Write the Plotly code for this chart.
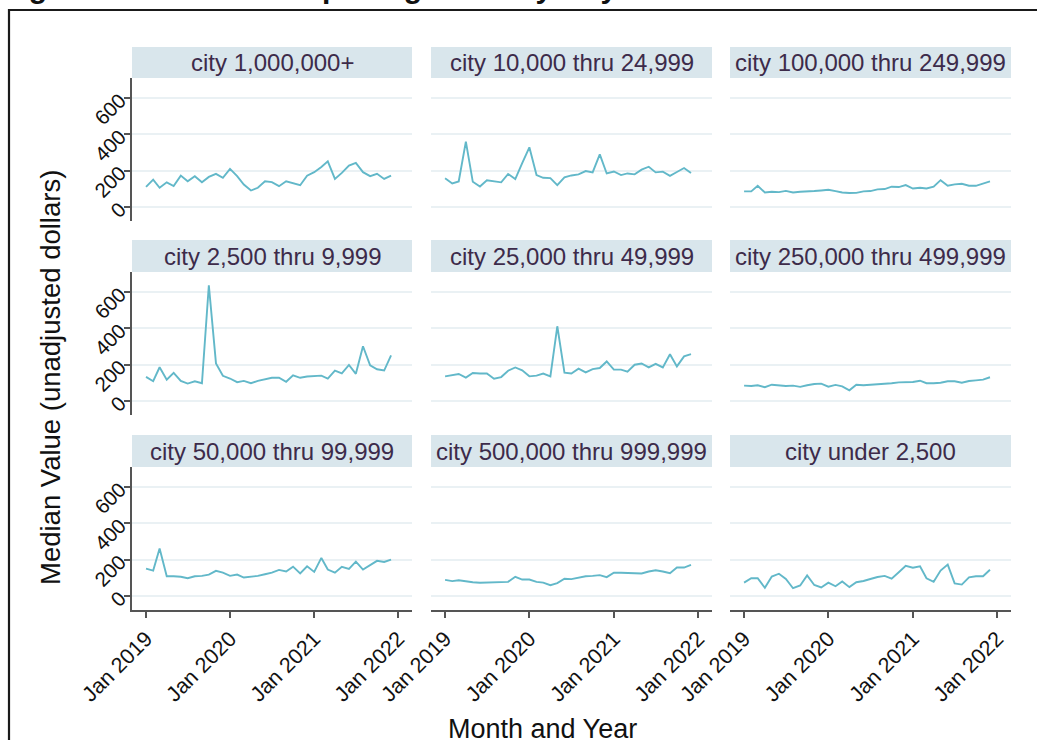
import plotly.graph_objects as go

# ---------------- data ----------------
months = [f"{y}-{m:02d}-01" for y in (2019, 2020, 2021) for m in range(1, 13)]

panel_titles = [
    "city 1,000,000+", "city 10,000 thru 24,999", "city 100,000 thru 249,999",
    "city 2,500 thru 9,999", "city 25,000 thru 49,999", "city 250,000 thru 499,999",
    "city 50,000 thru 99,999", "city 500,000 thru 999,999", "city under 2,500",
]

v_1m = [110, 150, 105, 135, 115, 172, 141, 169, 136, 165, 182, 160, 209, 169, 123, 90, 105, 141,
        136, 114, 141, 132, 119, 172, 191, 220, 251, 154, 187, 227, 242, 191, 169, 182, 154, 172]
v_10k = [157, 129, 140, 359, 138, 112, 146, 140, 135, 181, 153, 241, 328, 175, 160, 158, 120, 162,
         173, 179, 197, 190, 289, 184, 195, 175, 184, 179, 205, 221, 190, 194, 171, 192, 214, 186]
v_100k = [85, 85, 116, 79, 83, 81, 88, 79, 83, 83, 87, 90, 94, 87, 79, 76, 77, 85,
          87, 96, 98, 111, 109, 120, 101, 105, 101, 111, 147, 116, 124, 127, 116, 116, 127, 140]
v_2500 = [132, 108, 185, 117, 154, 110, 95, 108, 97, 637, 206, 138, 123, 103, 110, 97, 110, 119,
          127, 128, 105, 141, 127, 134, 138, 139, 123, 167, 152, 198, 149, 301, 196, 174, 167, 251]
v_25k = [135, 142, 148, 128, 153, 151, 151, 122, 131, 166, 184, 168, 135, 139, 150, 135, 411, 155,
         151, 177, 157, 175, 181, 217, 172, 172, 161, 199, 206, 184, 204, 184, 257, 190, 245, 257]
v_250k = [84, 82, 86, 75, 89, 86, 82, 84, 77, 86, 93, 95, 78, 88, 80, 58, 89, 86,
          88, 93, 91, 97, 102, 102, 104, 111, 97, 97, 100, 108, 108, 100, 109, 113, 117, 130]
v_50k = [150, 139, 261, 108, 108, 105, 97, 108, 110, 117, 138, 128, 110, 117, 101, 105, 110, 119,
         128, 143, 134, 161, 123, 163, 132, 209, 145, 128, 160, 149, 189, 145, 171, 193, 187, 200]
v_500k = [88, 81, 86, 79, 75, 72, 73, 75, 77, 77, 105, 90, 90, 77, 73, 59, 70, 94,
          92, 101, 108, 110, 114, 103, 127, 127, 125, 123, 123, 134, 141, 134, 125, 156, 156, 171]
v_under = [73, 97, 97, 44, 106, 122, 93, 42, 57, 113, 60, 46, 73, 53, 79, 48, 75, 82,
           93, 104, 110, 95, 130, 165, 155, 163, 97, 77, 139, 172, 69, 62, 102, 108, 108, 144]

series = [v_1m, v_10k, v_100k, v_2500, v_25k, v_250k, v_50k, v_500k, v_under]

x_tickvals = ["2019-01-01", "2020-01-01", "2021-01-01", "2022-01-01"]
x_ticktext = ["Jan 2019", "Jan 2020", "Jan 2021", "Jan 2022"]
y_tickvals = [0, 200, 400, 600]
y_ticktext = ["0", "200", "400", "600"]

title_text = "Figure 32: Median Shoplifting Value by City Size"
y_title = "Median Value (unadjusted dollars)"
x_title = "Month and Year"

# ---------------- layout geometry ----------------
W, H = 1037, 740
col_px = [(132, 412), (431, 712), (730, 1011)]
row_px = [(78, 221), (272, 415), (467, 610)]        # plot areas (top, bottom)
strip_px = [(47, 78), (240, 272), (435, 467)]        # strips (top, bottom)

LINE = "#62B8C9"
STRIP_BG = "#D9E6EC"
STRIP_TXT = "#3D2B4A"
GRID = "#EAF1F4"
AXIS = "#555555"
FONT = "Liberation Sans, Arial, Helvetica, sans-serif"


def fx(px):
    return px / W


def fy(py):
    return 1 - py / H


fig = go.Figure()
shapes = []
annotations = []

for k, (name, vals) in enumerate(zip(panel_titles, series)):
    r, c = divmod(k, 3)
    idx = "" if k == 0 else str(k + 1)
    fig.add_trace(go.Scatter(
        x=months, y=vals, mode="lines",
        line=dict(color=LINE, width=1.9),
        xaxis="x" + idx, yaxis="y" + idx,
        showlegend=False, hoverinfo="x+y",
    ))
    x0, x1 = col_px[c]
    t, b = row_px[r]
    bottom = (r == 2)
    left = (c == 0)
    fig.layout["xaxis" + idx] = dict(
        domain=[fx(x0), fx(x1)], anchor="y" + idx, type="date",
        range=["2018-11-01", "2022-03-02"], automargin=False,
        tickvals=x_tickvals, ticktext=x_ticktext,
        showticklabels=bottom, ticks="outside" if bottom else "",
        ticklen=6, tickwidth=1.5, tickcolor=AXIS,
        showline=bottom, linecolor=AXIS, linewidth=1.5,
        showgrid=False, zeroline=False, tickangle=-45,
        tickfont=dict(size=21.5, color="#111111", family=FONT),
    )
    fig.layout["yaxis" + idx] = dict(
        domain=[fy(b), fy(t)], anchor="x" + idx,
        range=[-78, 710], automargin=False,
        tickvals=y_tickvals, ticktext=y_ticktext,
        showticklabels=left, ticks="outside" if left else "",
        ticklen=6, tickwidth=1.5, tickcolor=AXIS,
        showline=left, linecolor=AXIS, linewidth=1.5,
        showgrid=True, gridcolor=GRID, gridwidth=1.5,
        zeroline=False, tickangle=-45,
        tickfont=dict(size=20.5, color="#111111", family=FONT),
    )
    st, sb = strip_px[r]
    shapes.append(dict(type="rect", xref="paper", yref="paper",
                       x0=fx(x0), x1=fx(x1), y0=fy(sb), y1=fy(st),
                       fillcolor=STRIP_BG, line=dict(width=0), layer="below"))
    annotations.append(dict(text=name, xref="paper", yref="paper",
                            x=fx((x0 + x1) / 2), y=fy((st + sb) / 2),
                            xanchor="center", yanchor="middle", showarrow=False,
                            font=dict(size=24, color=STRIP_TXT, family=FONT)))

# outer frame (extends beyond the visible page on right and bottom)
shapes.append(dict(type="rect", xref="paper", yref="paper",
                   x0=fx(9), x1=fx(1060), y0=fy(760), y1=fy(10),
                   line=dict(color="#1a1a1a", width=2.2), fillcolor="rgba(0,0,0,0)"))

# axis titles
annotations.append(dict(text=y_title, xref="paper", yref="paper",
                        x=fx(50), y=fy(378), textangle=-90,
                        xanchor="center", yanchor="middle", showarrow=False,
                        font=dict(size=27.5, color="#111111", family=FONT)))
annotations.append(dict(text=x_title, xref="paper", yref="paper",
                        x=fx(542), y=fy(729),
                        xanchor="center", yanchor="middle", showarrow=False,
                        font=dict(size=27, color="#111111", family=FONT)))
# figure title, clipped by the top edge as in the source
annotations.append(dict(text="<b>" + title_text + "</b>", xref="paper", yref="paper",
                        x=fx(0), y=fy(-13), xanchor="left", yanchor="middle",
                        showarrow=False,
                        font=dict(size=30, color="#111111", family=FONT)))

fig.update_layout(
    width=W, height=H,
    margin=dict(l=0, r=0, t=0, b=0, autoexpand=False),
    paper_bgcolor="white", plot_bgcolor="white",
    shapes=shapes, annotations=annotations,
    font=dict(family=FONT),
)

fig.write_html(
    "out.html",
    config={"displayModeBar": False},
    post_script="document.body.style.margin='0px';document.body.style.overflow='hidden';",
)
